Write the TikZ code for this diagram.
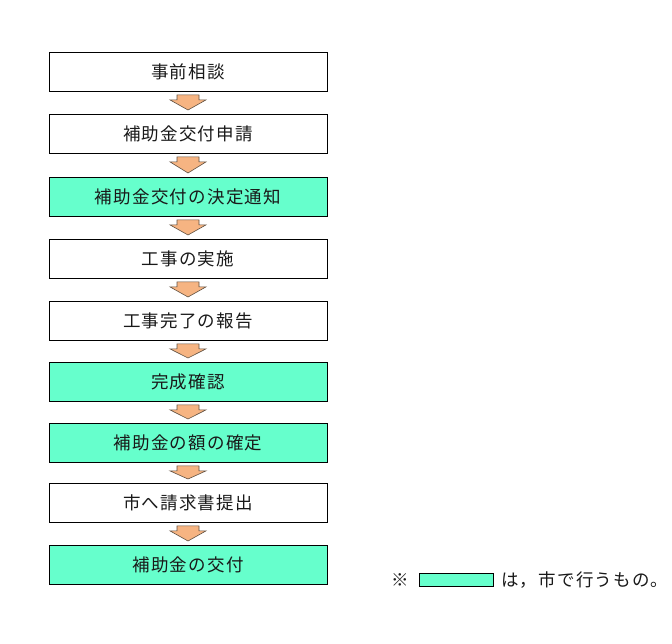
\documentclass[tikz,border=0pt]{standalone}
\usepackage{fontspec}
\usetikzlibrary{calc}
\newfontfamily\cjk{Noto Sans CJK JP}
\newfontfamily\cjkwide[LetterSpace=7]{Noto Sans CJK JP}
\definecolor{cityg}{RGB}{102,255,204}
\definecolor{arrowfill}{RGB}{246,180,130}
\definecolor{arrowline}{RGB}{95,80,65}
\definecolor{txt}{RGB}{25,25,25}
\begin{document}
\begin{tikzpicture}[x=1pt,y=-1pt,
  stepbox/.style={draw=black,line width=0.9pt,minimum width=278pt,minimum height=39pt,inner sep=0pt,text=txt,font=\cjkwide\fontsize{17.5}{19}\selectfont,anchor=north},
  citybox/.style={stepbox,fill=cityg},
  blockarrow/.style={fill=arrowfill,draw=arrowline,line width=0.6pt,line join=miter}]
\useasboundingbox (0,0) rectangle (672,644);
\node[stepbox]  (s1) at (188,52)  {事前相談};
\node[stepbox]  (s2) at (188,114) {補助金交付申請};
\node[citybox]  (s3) at (188,177) {補助金交付の決定通知};
\node[stepbox]  (s4) at (188,239) {工事の実施};
\node[stepbox]  (s5) at (188,301) {工事完了の報告};
\node[citybox]  (s6) at (188,362) {完成確認};
\node[citybox]  (s7) at (188,423) {補助金の額の確定};
\node[stepbox]  (s8) at (188,483) {市へ請求書提出};
\node[citybox]  (s9) at (188,545) {補助金の交付};
\foreach \a/\b in {s1/s2,s2/s3,s3/s4,s4/s5,s5/s6,s6/s7,s7/s8,s8/s9}{
  \path (\a.south) ++(0,3) coordinate (t);
  \path (\b.north) ++(0,-4) coordinate (p);
  \draw[blockarrow] ($(t)+(-11,0)$) -- ($(t)+(11,0)$) -- ($(t)+(11,5)$) -- ($(t)+(18,5)$) -- (p) -- ($(t)+(-18,5)$) -- ($(t)+(-11,5)$) -- cycle;
}
\node[font=\cjk\fontsize{17.5}{19}\selectfont,text=txt,anchor=west,inner sep=0pt] (note) at (391,580) {※};
\node[draw=black,line width=0.9pt,fill=cityg,minimum width=74pt,minimum height=13pt,inner sep=0pt,anchor=west] (key) at (419,580) {};
\node[font=\cjkwide\fontsize{17.5}{19}\selectfont,text=txt,anchor=west,inner sep=0pt] (keytext) at (501,580) {は，市で行うもの。};
\end{tikzpicture}
\end{document}
